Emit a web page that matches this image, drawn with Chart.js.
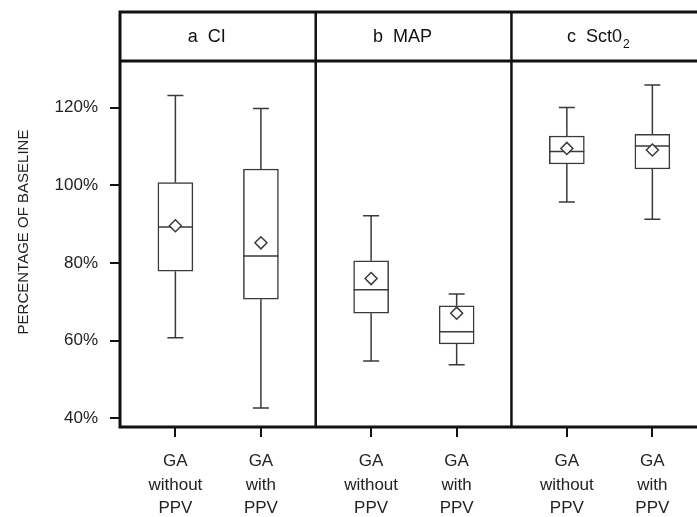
<!DOCTYPE html>
<html lang="en">
<head>
<meta charset="UTF-8" />
<title>Percentage of baseline</title>
<script src="https://cdn.jsdelivr.net/npm/chart.js@4"></script>
<style>
  * { margin: 0; padding: 0; }
  body { background: #fff; }
  canvas { display: block; }
</style>
</head>
<body>
<canvas id="chart" width="697" height="517"></canvas>
<script>
const panels = ['a  CI', 'b  MAP', 'c  Sct0'];
const panelSub = ['', '', '2'];
const groups = [['GA', 'without', 'PPV'], ['GA', 'with', 'PPV']];
// six boxes: a-without, a-with, b-without, b-with, c-without, c-with
const whiskerLow  = [60.8, 42.7, 54.8, 53.8, 95.7, 91.3];
const q1          = [77.9, 70.7, 67.1, 59.2, 105.5, 104.2];
const median      = [89.3, 81.8, 73.1, 62.3, 108.7, 110.1];
const q3          = [100.7, 104.2, 80.6, 69.0, 112.7, 113.1];
const whiskerHigh = [123.1, 119.8, 92.2, 72.0, 120.0, 125.8];
const mean        = [89.6, 85.2, 76.0, 67.1, 109.5, 109.1];
const yTicks = [40, 60, 80, 100, 120];

// every panel is one unit wide on x, the two groups sit inside it
const groupSlot = [0.283, 0.72];
const xPos = median.map((_, i) => Math.floor(i / 2) + groupSlot[i % 2]);
const xLabels = median.map((_, i) => groups[i % 2]);
const X_MAX = 2.948; // the third panel runs off the right edge

const FONT = "'Liberation Sans', Arial, sans-serif";
Chart.defaults.font.family = FONT;
Chart.defaults.color = '#222';

const boxPlot = {
  id: 'boxPlot',
  afterDatasetDraw(chart, args) {
    if (args.meta.type !== 'bar') return;
    const { ctx, scales: { x, y } } = chart;
    ctx.save();
    ctx.strokeStyle = '#3a3a3a';
    ctx.lineWidth = 1.5;
    xPos.forEach((v, i) => {
      const cx = x.getPixelForValue(v);
      const hw = args.meta.data[i].width / 2;
      const cap = 8;
      const pm = y.getPixelForValue(median[i]);
      const top = y.getPixelForValue(q3[i]), hi = y.getPixelForValue(whiskerHigh[i]);
      const bot = y.getPixelForValue(q1[i]), lo = y.getPixelForValue(whiskerLow[i]);
      ctx.beginPath();
      ctx.moveTo(cx - hw, pm); ctx.lineTo(cx + hw, pm);
      ctx.moveTo(cx, top); ctx.lineTo(cx, hi);
      ctx.moveTo(cx - cap, hi); ctx.lineTo(cx + cap, hi);
      ctx.moveTo(cx, bot); ctx.lineTo(cx, lo);
      ctx.moveTo(cx - cap, lo); ctx.lineTo(cx + cap, lo);
      ctx.stroke();
    });
    ctx.restore();
  },
  afterDraw(chart) {
    const { ctx, chartArea: a, scales: { x } } = chart;
    const W = chart.width, topY = 12;
    ctx.save();
    ctx.strokeStyle = '#111';
    ctx.lineWidth = 3;
    ctx.beginPath();
    ctx.moveTo(a.left, topY); ctx.lineTo(W, topY);
    ctx.moveTo(a.left, a.top); ctx.lineTo(W, a.top);
    ctx.moveTo(a.left, a.bottom); ctx.lineTo(W, a.bottom);
    ctx.moveTo(a.left, topY - 1.5); ctx.lineTo(a.left, a.bottom + 1.5);
    ctx.stroke();
    ctx.lineWidth = 2.5;
    ctx.beginPath();
    [1, 2].forEach(p => {
      const px = x.getPixelForValue(p);
      ctx.moveTo(px, topY); ctx.lineTo(px, a.bottom);
    });
    ctx.stroke();

    // panel headers
    ctx.fillStyle = '#111';
    ctx.textBaseline = 'middle';
    const hy = (topY + a.top) / 2 + 1;
    panels.forEach((t, p) => {
      ctx.font = '18px ' + FONT;
      const w = ctx.measureText(t).width;
      ctx.font = '12px ' + FONT;
      const sw = panelSub[p] ? ctx.measureText(panelSub[p]).width + 1 : 0;
      const cx = x.getPixelForValue(p + 0.5) - 11;
      const sx = cx - (w + sw) / 2;
      ctx.textAlign = 'left';
      ctx.font = '18px ' + FONT;
      ctx.fillText(t, sx, hy);
      if (panelSub[p]) {
        ctx.font = '12px ' + FONT;
        ctx.fillText(panelSub[p], sx + w + 1, hy + 7);
      }
    });

    // y axis title
    ctx.font = '15px ' + FONT;
    ctx.fillStyle = '#222';
    ctx.textAlign = 'center';
    ctx.translate(24, 232);
    ctx.rotate(-Math.PI / 2);
    ctx.fillText('PERCENTAGE OF BASELINE', 0, 0);
    ctx.restore();
  }
};

new Chart(document.getElementById('chart'), {
  type: 'bar',
  data: {
    datasets: [
      {
        type: 'scatter',
        order: 0,
        data: xPos.map((v, i) => ({ x: v, y: mean[i] })),
        pointStyle: 'rectRot',
        pointRadius: 6,
        borderWidth: 1.5,
        borderColor: '#3a3a3a',
        backgroundColor: '#fff'
      },
      {
        type: 'bar',
        order: 1,
        data: xPos.map((v, i) => ({ x: v, y: [q1[i], q3[i]] })),
        barThickness: 35,
        borderWidth: 1.5,
        borderSkipped: false,
        borderColor: '#3a3a3a',
        backgroundColor: '#fff'
      }
    ]
  },
  options: {
    responsive: false,
    animation: false,
    layout: { autoPadding: false, padding: { top: 61, left: 0, right: 0, bottom: 0 } },
    plugins: { legend: { display: false }, tooltip: { enabled: false } },
    scales: {
      x: {
        type: 'linear',
        min: 0,
        max: X_MAX,
        offset: false,
        afterBuildTicks: s => { s.ticks = xPos.map(v => ({ value: v })); },
        afterFit: s => { s.height = 90; s.paddingLeft = 0; s.paddingRight = 0; },
        border: { display: false },
        grid: { offset: false, drawOnChartArea: false, tickLength: 10, lineWidth: 2, color: '#111' },
        ticks: {
          autoSkip: false,
          maxRotation: 0,
          padding: 13,
          color: '#222',
          font: { size: 17, lineHeight: 1.38 },
          callback: (v, i) => xLabels[i]
        }
      },
      y: {
        min: 37.8,
        max: 132,
        afterBuildTicks: s => { s.ticks = yTicks.map(v => ({ value: v })); },
        afterFit: s => { s.width = 120; },
        border: { display: false },
        grid: { drawOnChartArea: false, tickLength: 10, lineWidth: 2, color: '#111' },
        ticks: {
          padding: 12,
          color: '#222',
          font: { size: 17 },
          callback: v => v + '%'
        }
      }
    }
  },
  plugins: [boxPlot]
});
</script>
</body>
</html>
